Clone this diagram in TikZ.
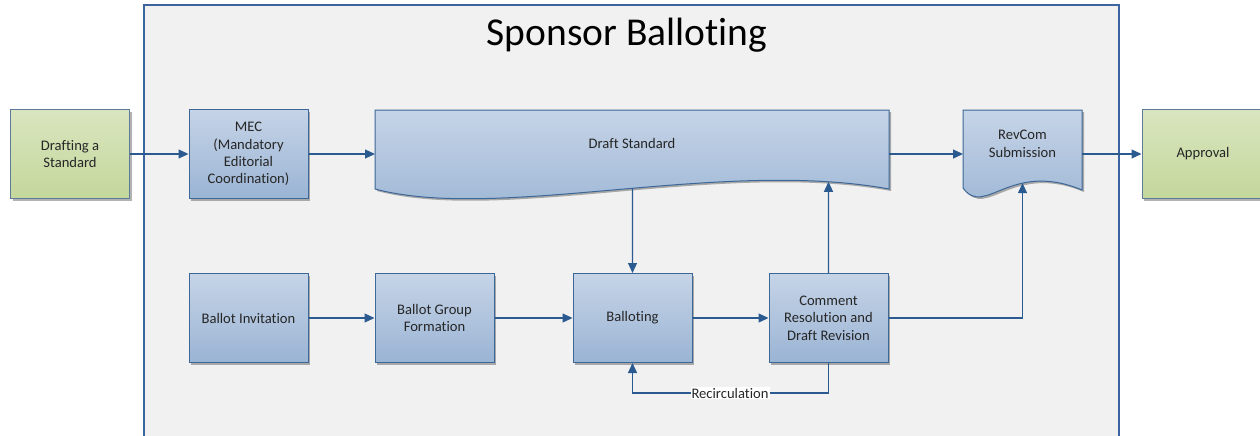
\documentclass[tikz,border=0pt]{standalone}
\usepackage{fontspec}
\setmainfont{Carlito}[Ligatures=NoCommon]
\usetikzlibrary{arrows.meta,shadows,intersections}
\definecolor{frameline}{HTML}{3B64A0}
\definecolor{framefill}{HTML}{F1F1F1}
\definecolor{bluetop}{HTML}{C6D4E7}
\definecolor{bluebot}{HTML}{9AB4D4}
\definecolor{blueline}{HTML}{3D6796}
\definecolor{greentop}{HTML}{D9E5BF}
\definecolor{greenbot}{HTML}{C4D79B}
\definecolor{greenline}{HTML}{5D7B98}
\definecolor{arrowcol}{HTML}{2B5A91}
\definecolor{textcol}{HTML}{262626}
\tikzset{
  shade/.style={drop shadow={shadow xshift=2pt,shadow yshift=-2pt,fill=black,opacity=0.3}},
  bluebox/.style={rectangle,draw=blueline,line width=1pt,top color=bluetop,bottom color=bluebot,
    minimum width=119pt,minimum height=89pt,align=center,font=\fontsize{14.6}{17.4}\selectfont,text=textcol,shade},
  greenbox/.style={bluebox,draw=greenline,top color=greentop,bottom color=greenbot},
  wavebox/.style={draw=blueline,line width=1pt,top color=bluetop,bottom color=bluebot,shade},
  lbl/.style={align=center,font=\fontsize{14.6}{17.4}\selectfont,text=textcol},
  conn/.style={draw=arrowcol,line width=1.2pt,-{Triangle[length=10pt,width=9pt]}},
}
\begin{document}
\begin{tikzpicture}[x=1pt,y=-1pt]
\useasboundingbox (0,0) rectangle (1260,436);
\clip (0,0) rectangle (1260,436);
% frame
\draw[frameline,line width=2pt,fill=framefill] (144,5) rectangle (1119,450);
\node[font=\fontsize{39.5}{44}\selectfont,text=black] (title) at (627,35) {Sponsor Balloting};
% boxes
\node[greenbox] (draft0) at (70,154) {Drafting a\\Standard};
\node[bluebox] (mec) at (248.5,154) {MEC\\(Mandatory\\Editorial\\Coordination)};
\node[greenbox,minimum width=122pt] (appr) at (1203,154) {Approval};
\node[bluebox] (inv) at (248.5,318) {Ballot Invitation};
\node[bluebox] (grp) at (434.5,318) {Ballot Group\\Formation};
\node[bluebox] (bal) at (632.5,318) {Balloting};
\node[bluebox] (cr) at (828.5,318) {Comment\\Resolution and\\Draft Revision};
% Draft Standard (document shape)
\path[wavebox] (375,110) -- (889,110) -- (889,189)
  .. controls (720,158) and (500,222) .. (375,189) -- cycle;
\path[name path=dswave] (889,189) .. controls (720,158) and (500,222) .. (375,189);
\node[lbl,minimum width=514pt,minimum height=79pt] (ds) at (632,150) {};
\node[lbl] (dstext) at (632,143) {Draft Standard};
% RevCom (document shape)
\path[wavebox] (963,110) -- (1082,110) -- (1082,190)
  .. controls (1010,160) and (985,218) .. (963,188) -- cycle;
\path[name path=rcwave] (1082,190) .. controls (1010,160) and (985,218) .. (963,188);
\node[lbl,minimum width=119pt,minimum height=79pt] (rc) at (1022.5,150) {};
\node[lbl] (rctext) at (1022.5,144) {RevCom\\Submission};
% wave points
\path[name path=v1] (632.5,150) -- (632.5,260);
\path[name path=v2] (828.5,150) -- (828.5,260);
\path[name path=v3] (1022.5,150) -- (1022.5,260);
\path[name intersections={of=dswave and v1,by=dsb}];
\path[name intersections={of=dswave and v2,by=dsc}];
\path[name intersections={of=rcwave and v3,by=rcb}];
\coordinate (dsw) at (375,154);
\coordinate (dse) at (889,154);
\coordinate (rcw) at (963,154);
\coordinate (rce) at (1082,154);
% connectors
\draw[conn] (draft0.east) -- (mec.west);
\draw[conn] (mec.east) -- (dsw);
\draw[conn] (dse) -- (rcw);
\draw[conn] (rce) -- (appr.west);
\draw[conn] (inv.east) -- (grp.west);
\draw[conn] (grp.east) -- (bal.west);
\draw[conn] (bal.east) -- (cr.west);
\draw[conn] (dsb) -- (bal.north);
\draw[conn] (cr.north) -- (dsc);
\draw[conn] (cr.east) -| (rcb);
\coordinate (rr) at (828.5,393);
\coordinate (rl) at (632.5,393);
\draw[conn] (cr.south) -- (rr) -- (rl) -- (bal.south);
\node[lbl,fill=white,inner sep=1pt] (recirc) at (730,393) {Recirculation};
\end{tikzpicture}
\end{document}
